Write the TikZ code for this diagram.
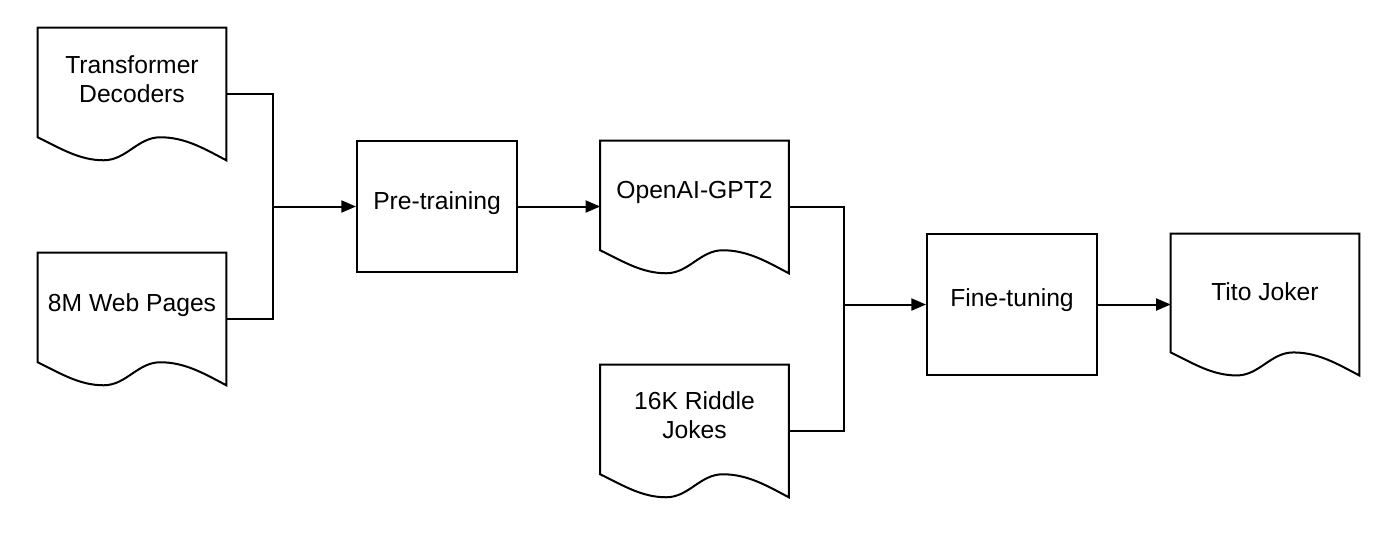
\documentclass[tikz,border=0pt]{standalone}
\usepackage{fontspec}
\setmainfont{Liberation Sans}
\usetikzlibrary{arrows.meta,calc}
\tikzset{
  ln/.style={line width=1.5pt, black},
  arr/.style={ln, -{Triangle[length=11pt,width=9pt]}},
  docbox/.style={draw=none, minimum width=141pt, minimum height=99pt, inner sep=0pt},
  tallbox/.style={docbox, minimum height=106pt},
  procbox/.style={draw, ln, inner sep=0pt, font=\fontsize{18.5}{22}\selectfont},
  doctext/.style={align=center, inner sep=0pt, font=\fontsize{18.5}{22}\selectfont},
}
\newcommand{\docoutline}[1]{%
  \draw[ln] (#1.north west) -- (#1.north east) -- (#1.south east)
    .. controls ($(#1.south west)!0.88!(#1.south east)+(0,-12)$) and ($(#1.south west)!0.78!(#1.south east)+(0,-23)$)
    .. ($(#1.south west)!0.65!(#1.south east)+(0,-23)$)
    .. controls ($(#1.south west)!0.53!(#1.south east)+(0,-23)$) and ($(#1.south west)!0.47!(#1.south east)$)
    .. ($(#1.south west)!0.35!(#1.south east)$)
    .. controls ($(#1.south west)!0.22!(#1.south east)$) and ($(#1.south west)!0.12!(#1.south east)+(0,-12)$)
    .. ($(#1.south west)+(0,-23)$) -- cycle;}
\begin{document}
\begin{tikzpicture}[x=0.75pt,y=-0.75pt]
\useasboundingbox (0,0) rectangle (1400,544);
% documents
\node[docbox] (T) at (132,94) {};
\node[docbox] (W) at (132,319) {};
\node[docbox] (O) at (694.5,207) {};
\node[docbox] (R) at (694.5,431) {};
\node[tallbox] (J) at (1265,304.5) {};
\foreach \d in {T,W,O,R,J} {\docoutline{\d}}
\node[doctext] (Tt) at ($(T.center)+(0,-15)$) {Transformer\\Decoders};
\node[doctext] (Wt) at ($(W.center)+(0,-14)$) {8M Web Pages};
\node[doctext] (Ot) at ($(O.center)+(0,-15)$) {OpenAI-GPT2};
\node[doctext] (Rt) at ($(R.center)+(0,-15.5)$) {16K Riddle\\Jokes};
\node[doctext] (Jt) at ($(J.center)+(0,-12.5)$) {Tito Joker};
% process boxes
\node[procbox, minimum width=120pt, minimum height=98.25pt] (P) at (437,206.5) {};
\node[doctext] (Pt) at ($(P.center)+(0,-3)$) {Pre-training};
\node[procbox, minimum width=127.5pt, minimum height=105.75pt] (F) at (1012,304.5) {};
\node[doctext] (Ft) at ($(F.center)+(0,-4)$) {Fine-tuning};
% junctions
\coordinate (j1) at (273,206.5);
\coordinate (j2) at (844,304.5);
% connectors
\draw[ln] (T.east) -| (j1);
\draw[ln] (W.east) -| (j1);
\draw[arr] (j1) -- (P.west);
\draw[arr] (P.east) -- (P.east -| O.west);
\draw[ln] (O.east) -| (j2);
\draw[ln] (R.east) -| (j2);
\draw[arr] (j2) -- (F.west);
\draw[arr] (F.east) -- (J.west);
\end{tikzpicture}
\end{document}
